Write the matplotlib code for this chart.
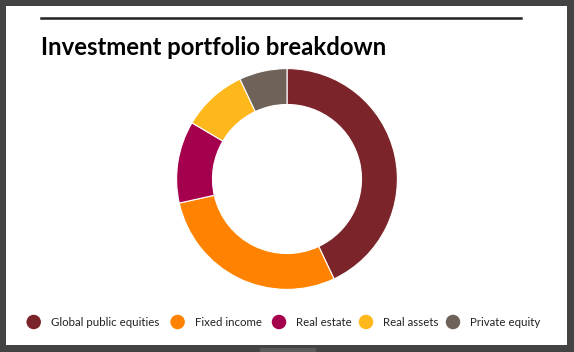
import matplotlib
matplotlib.use("Agg")
from matplotlib import pyplot as plt
from matplotlib.patches import Rectangle, Ellipse

categories = ['Global public equities', 'Fixed income', 'Real estate', 'Real assets', 'Private equity']
shares = [43, 28.5, 12, 9.5, 7]
colors = ['#7b252a', '#ff8300', '#a5004e', '#ffb81c', '#6e6259']

W, H = 574, 352
fig = plt.figure(figsize=(W / 100, H / 100), dpi=100)
fig.patch.set_facecolor('#434343')

# white card
fig.patches.append(Rectangle((6 / W, 7 / H), 561 / W, 339 / H, transform=fig.transFigure,
                             facecolor='white', edgecolor='none', zorder=-2))
# small grey tab at the bottom
fig.patches.append(Rectangle((260 / W, 0), 56 / W, 4 / H, transform=fig.transFigure,
                             facecolor='#5a5a5a', edgecolor='none', zorder=-2))
# rule above the title
fig.add_artist(plt.Line2D([41 / W, 521 / W], [1 - 17.5 / H, 1 - 17.5 / H],
                          transform=fig.transFigure, color='#222222', linewidth=1.8))

fig.text(41 / W, 1 - 55 / H, 'Investment portfolio breakdown', fontsize=17.2,
         fontweight='bold', family='Lato', color='black', va='baseline')

# donut
cx, cy, r = 287, 179, 111.5
ax = fig.add_axes([(cx - r) / W, (H - cy - r) / H, 2 * r / W, 2 * r / H])
ax.pie(shares, colors=colors, startangle=90, counterclock=False, radius=1,
       wedgeprops=dict(width=0.325, edgecolor='white', linewidth=0.8))
ax.set_xlim(-1.01, 1.01)
ax.set_ylim(-1.01, 1.01)
ax.set_aspect('equal')
ax.axis('off')

# legend
leg_x = [33.7, 177.6, 279, 366, 453]
leg_y = 1 - 322 / H
for x, name, c in zip(leg_x, categories, colors):
    fig.patches.append(Ellipse((x / W, leg_y), 14.5 / W, 14.5 / H, transform=fig.transFigure,
                               facecolor=c, edgecolor='none'))
    fig.text((x + 17) / W, leg_y, name, fontsize=8.3, family='Lato',
             color='#222222', va='center', ha='left')

fig.savefig('out.png', dpi=100, facecolor=fig.get_facecolor())
